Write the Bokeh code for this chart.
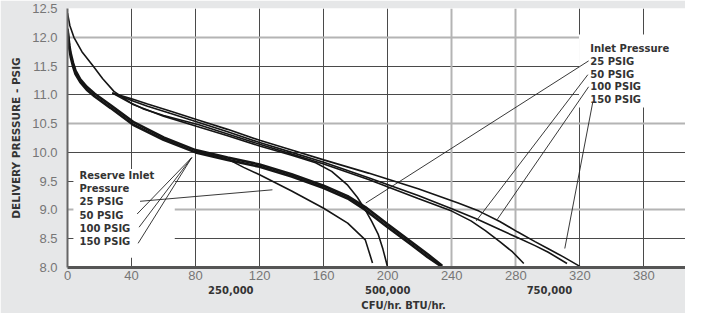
from bokeh.plotting import figure
from bokeh.models import (Range1d, FixedTicker, Grid, LinearAxis, Label,
                          BoxAnnotation, PrintfTickFormatter)
from bokeh.embed import file_html
from bokeh.resources import INLINE

# ---------------- data ----------------
x_ticks = [0, 40, 80, 120, 160, 200, 240, 280, 320, 360]
x_tick_overrides = {360: "380"}
y_ticks = [8.0, 8.5, 9.0, 9.5, 10.0, 10.5, 11.0, 11.5, 12.0, 12.5]
x_grid_dark = [40, 80, 120, 160, 200, 320, 360]
x_grid_light = [240, 280]
y_grid_dark = [8.5, 9.5, 10.0, 11.0, 11.5]
y_grid_light = [9.0, 10.5, 12.0, 12.5]

btu_ticks = [102, 200, 301]
btu_labels = ["250,000", "500,000", "750,000"]
unit_tick = [211]
unit_label = "CFU/hr.  BTU/hr."

# Reserve inlet pressure curves (thick band = 50/100/150 PSIG)
res_x = [0, 0.6, 1.2, 2, 3.5, 5, 8, 12, 17, 27, 41, 60, 80, 100, 120, 140, 160, 175, 186, 200, 215, 225, 234]
res_hi = [12.15, 12.0, 11.85, 11.72, 11.55, 11.42, 11.27, 11.14, 11.02, 10.82, 10.53, 10.26, 10.04,
          9.91, 9.79, 9.62, 9.42, 9.24, 9.05, 8.75, 8.44, 8.23, 8.03]
res_lo = [12.12, 11.95, 11.8, 11.66, 11.49, 11.36, 11.22, 11.09, 10.97, 10.77, 10.48, 10.22, 10.0,
          9.87, 9.75, 9.58, 9.38, 9.2, 9.0, 8.7, 8.39, 8.18, 8.01]
# Reserve 25 PSIG
res25_x = [80, 101, 110, 120, 140, 160, 175, 186, 190.5]
res25_y = [10.02, 9.87, 9.74, 9.61, 9.33, 9.03, 8.77, 8.48, 8.08]

# Inlet pressure curves
in25_x = [0, 1.5, 4, 9, 16, 22, 29, 41, 60, 80, 100, 120, 140, 155, 165, 175, 181, 186, 190, 194, 197, 200]
in25_y = [12.42, 12.2, 12.0, 11.75, 11.5, 11.28, 11.06, 10.83, 10.63, 10.46, 10.29, 10.11, 9.95, 9.82,
          9.67, 9.43, 9.22, 9.0, 8.8, 8.58, 8.32, 8.0]
in50_x = [28, 38, 47, 60, 82, 100, 120, 140, 160, 188, 219, 240, 252, 261, 270, 278, 285]
in50_y = [11.03, 10.88, 10.76, 10.64, 10.48, 10.32, 10.14, 9.97, 9.8, 9.53, 9.2, 8.98, 8.81, 8.64,
          8.45, 8.27, 8.07]
in100_x = [28, 40, 50, 65, 82, 100, 120, 140, 160, 188, 219, 240, 256, 270, 281, 292, 300, 312]
in100_y = [11.03, 10.9, 10.8, 10.67, 10.52, 10.36, 10.17, 10.0, 9.83, 9.56, 9.25, 9.02, 8.84, 8.66,
           8.52, 8.38, 8.27, 8.07]
in150_x = [28, 40, 50, 65, 82, 100, 120, 140, 160, 188, 219, 244, 257, 270, 281, 292, 300, 310, 320]
in150_y = [11.03, 10.93, 10.84, 10.71, 10.56, 10.4, 10.21, 10.04, 9.87, 9.64, 9.37, 9.12, 8.98, 8.8,
           8.62, 8.45, 8.33, 8.18, 8.02]

# Legend texts
res_texts = ["Reserve Inlet", "Pressure", "25  PSIG", "50  PSIG", "100 PSIG", "150 PSIG"]
res_text_y = [9.6, 9.37, 9.14, 8.91, 8.68, 8.45]
res_text_x = 7.5
in_texts = ["Inlet Pressure", "25  PSIG", "50  PSIG", "100 PSIG", "150 PSIG"]
in_text_y = [11.8, 11.58, 11.36, 11.14, 10.92]
in_text_x = 326.5

# Leader lines (from label to curve)
res_ptr_x0 = [45.3, 43.5, 44.7, 44.1]
res_ptr_y0 = [9.15, 8.93, 8.7, 8.42]
res_ptr_x1 = [128, 77.6, 77.6, 77.6]
res_ptr_y1 = [9.35, 9.91, 9.91, 9.91]
in_ptr_x0 = [325.5, 325.0, 325.5, 328.0]
in_ptr_y0 = [11.59, 11.35, 11.14, 10.86]
in_ptr_x1 = [186.3, 255.3, 268.3, 310.6]
in_ptr_y1 = [9.12, 8.81, 8.83, 8.33]

# ---------------- figure ----------------
BG = "#e6e7e8"
p = figure(width=685, height=313, output_backend="svg", toolbar_location=None,
           x_range=Range1d(0, 386), y_range=Range1d(8.0, 12.5),
           min_border_left=67, min_border_right=0, min_border_top=8, min_border_bottom=0,
           background_fill_color="white", border_fill_color=BG, outline_line_color=None)

p.xgrid.ticker = FixedTicker(ticks=x_grid_dark)
p.xgrid.grid_line_color = "#4a4a4a"
p.xgrid.grid_line_width = 1
p.ygrid.ticker = FixedTicker(ticks=y_grid_dark)
p.ygrid.grid_line_color = "#4a4a4a"
p.ygrid.grid_line_width = 1
p.add_layout(Grid(dimension=0, ticker=FixedTicker(ticks=x_grid_light),
                  grid_line_color="#b4b4b4", grid_line_width=2))
p.add_layout(Grid(dimension=1, ticker=FixedTicker(ticks=y_grid_light),
                  grid_line_color="#b4b4b4", grid_line_width=2))

# white boxes behind the legend texts (hide the grid)
p.add_layout(BoxAnnotation(left=3.7, right=67, bottom=8.17, top=9.71, fill_color="white",
                           fill_alpha=1, line_color=None, level="underlay"))
p.add_layout(BoxAnnotation(left=319.5, right=390, bottom=10.78, top=12.05, fill_color="white",
                           fill_alpha=1, line_color=None, level="underlay"))

for ax in (p.xaxis[0], p.yaxis[0]):
    ax.major_tick_line_color = None
    ax.minor_tick_line_color = None
    ax.major_tick_out = 0
    ax.major_tick_in = 0
    ax.minor_tick_out = 0
    ax.minor_tick_in = 0
    ax.major_label_text_font = "Liberation Sans"
    ax.major_label_text_font_size = "13px"
    ax.major_label_text_color = "#767676"

p.xaxis.ticker = FixedTicker(ticks=x_ticks)
p.xaxis.major_label_overrides = x_tick_overrides
p.xaxis.axis_line_color = "#555555"
p.xaxis.axis_line_width = 3
p.xaxis.major_label_standoff = 3

p.yaxis.ticker = FixedTicker(ticks=y_ticks)
p.yaxis.formatter = PrintfTickFormatter(format="%.1f")
p.yaxis.axis_line_color = "#666666"
p.yaxis.axis_line_width = 2
p.yaxis.major_label_standoff = 10
p.yaxis.axis_label = "DELIVERY PRESSURE - PSIG"
p.yaxis.axis_label_text_font = "DejaVu Sans"
p.yaxis.axis_label_text_font_style = "bold"
p.yaxis.axis_label_text_font_size = "10.5px"
p.yaxis.axis_label_text_color = "#333333"
p.yaxis.axis_label_standoff = 7


def extra_axis(ticks, overrides, standoff):
    return LinearAxis(ticker=FixedTicker(ticks=ticks), major_label_overrides=overrides,
                      axis_line_color=None, major_tick_line_color=None, minor_tick_line_color=None,
                      major_tick_out=0, major_tick_in=0, minor_tick_out=0, minor_tick_in=0,
                      major_label_text_font="DejaVu Sans", major_label_text_font_style="bold",
                      major_label_text_font_size="10px", major_label_text_color="#333333",
                      major_label_standoff=standoff)


p.add_layout(extra_axis(btu_ticks, dict(zip(btu_ticks, btu_labels)), 3), "below")
p.add_layout(extra_axis(unit_tick, {unit_tick[0]: unit_label}, 3), "below")

# curves
INK = "#151515"
p.line(res_x, res_hi, line_width=2.6, color=INK)
p.line(res_x, res_lo, line_width=2.6, color=INK)
p.line(res25_x, res25_y, line_width=1.6, color=INK)
p.line(in25_x, in25_y, line_width=1.6, color=INK)
p.line(in50_x, in50_y, line_width=1.6, color=INK)
p.line(in100_x, in100_y, line_width=1.6, color=INK)
p.line(in150_x, in150_y, line_width=1.6, color=INK)

# leader lines
p.segment(x0=res_ptr_x0, y0=res_ptr_y0, x1=res_ptr_x1, y1=res_ptr_y1, line_width=0.9, color="#222222")
p.segment(x0=in_ptr_x0, y0=in_ptr_y0, x1=in_ptr_x1, y1=in_ptr_y1, line_width=0.9, color="#222222")

# legend texts
for t, yy in zip(res_texts, res_text_y):
    p.add_layout(Label(x=res_text_x, y=yy, text=t, text_font="DejaVu Sans", text_font_style="bold",
                       text_font_size="10px", text_color="#333333", text_baseline="middle",
                       text_align="left"))
for t, yy in zip(in_texts, in_text_y):
    p.add_layout(Label(x=in_text_x, y=yy, text=t, text_font="DejaVu Sans", text_font_style="bold",
                       text_font_size="10px", text_color="#333333", text_baseline="middle",
                       text_align="left"))

open("out.html", "w").write(file_html(p, INLINE))
